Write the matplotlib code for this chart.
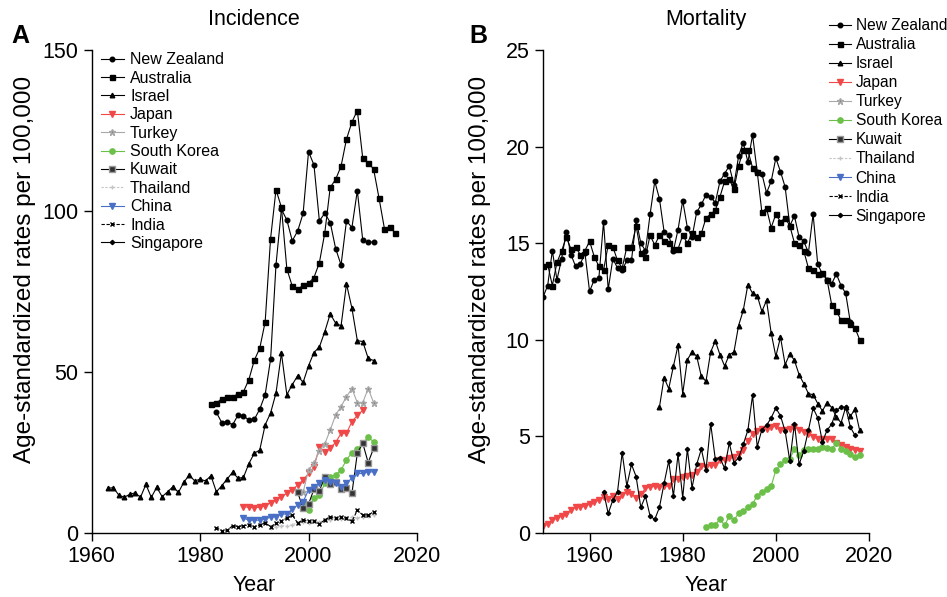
import matplotlib
matplotlib.use("Agg")
import matplotlib.pyplot as plt
import numpy as np

plt.rcParams['font.family'] = ['Liberation Sans', 'DejaVu Sans']

# ---- Incidence data (start year, values) ----
inc_nz_start = 1983
inc_nz = [37.4, 34.2, 34.5, 33.5, 36.6, 36.3, 35.0, 35.2, 38.4, 42.9, 53.9, 83.3, 100.5, 97.2, 90.7,
          93.8, 99.2, 118.4, 114.3, 96.9, 99.3, 96.4, 88.3, 83.2, 96.9, 94.8, 106.3, 90.9, 90.2, 90.4]
inc_au_start = 1982
inc_au = [40.0, 40.2, 41.7, 42.1, 42.1, 43.2, 43.8, 47.6, 53.6, 57.3, 65.5, 91.4, 106.6, 101.1, 82.0,
          76.6, 75.6, 76.9, 77.5, 79.3, 83.9, 93.2, 107.3, 109.8, 113.9, 122.3, 127.6, 131.2, 116.4,
          115.0, 113.0, 104.0, 94.5, 95.1, 93.0]
inc_il_start = 1963
inc_il = [13.8, 14.0, 11.7, 11.0, 11.9, 12.4, 11.0, 15.0, 11.0, 14.1, 11.2, 12.7, 14.3, 12.5, 15.7,
          17.9, 16.1, 16.6, 16.1, 17.7, 12.7, 14.6, 16.7, 18.8, 16.9, 17.2, 21.5, 24.7, 25.7, 33.5,
          37.2, 43.4, 55.8, 42.9, 46.0, 48.8, 46.7, 51.9, 56.0, 57.7, 62.5, 68.0, 65.1, 64.3, 77.3,
          69.8, 59.7, 59.4, 54.2, 53.5]
inc_jp_start = 1988
inc_jp = [8.1, 7.9, 7.8, 7.9, 8.4, 9.3, 10.2, 11.2, 12.2, 13.3, 14.8, 16.4, 18.4, 20.3, 26.7, 25.2,
          26.4, 28.0, 30.9, 30.9, 34.5, 36.5, 38.0]
inc_tr_start = 1998
inc_tr = [12.5, 12.5, 19.5, 21.6, 25.5, 27.6, 31.9, 36.6, 39.2, 42.3, 44.8, 40.4, 40.4, 44.8, 40.4]
inc_kr_start = 1999
inc_kr = [9.1, 7.0, 10.7, 11.7, 15.3, 17.4, 17.9, 19.5, 22.6, 24.9, 25.9, 27.9, 29.6, 28.3]
inc_kw_start = 1998
inc_kw = [12.5, 7.6, 8.9, 13.5, 13.0, 17.4, 15.1, 15.8, 13.5, 13.9, 12.2, 24.7, 27.8, 21.8, 26.2]
inc_th_start = 1993
inc_th = [1.5, 1.8, 2.2, 2.0, 2.5, 3.0, 3.2, 3.0, 3.5, 3.3, 3.8, 4.0, 4.5, 4.2, 4.5, 4.8, 4.6, 5.0,
          5.2, 5.6]
inc_cn_start = 1988
inc_cn = [4.5, 3.9, 3.9, 3.9, 4.3, 4.8, 5.0, 5.8, 5.8, 7.3, 8.6, 9.6, 13.3, 14.1, 15.5, 16.5, 15.8,
          15.3, 14.3, 15.5, 16.9, 18.4, 18.4, 18.9, 18.9]
inc_in_start = 1983
inc_in = [1.6, 0.6, 0.7, 2.2, 1.9, 2.2, 2.4, 1.9, 2.4, 3.1, 1.9, 2.9, 3.7, 4.5, 5.5, 3.0, 4.0, 3.5,
          3.5, 2.7, 4.0, 5.0, 4.5, 5.0, 4.5, 3.5, 7.0, 5.5, 5.5, 6.5]

# ---- Mortality data ----
mor_nz_start = 1950
mor_nz = [12.2, 12.8, 14.6, 13.1, 14.2, 15.6, 14.4, 13.8, 13.9, 14.5, 12.5, 13.1, 13.2, 16.1, 12.6,
          14.2, 13.7, 13.6, 14.1, 14.1, 16.2, 15.0, 14.6, 16.5, 18.2, 17.3, 15.6, 15.4, 14.6, 15.7,
          17.2, 15.8, 15.3, 16.6, 17.0, 17.5, 17.4, 17.1, 18.2, 18.6, 19.0, 18.0, 19.5, 20.2, 19.2,
          20.6, 18.7, 18.6, 17.6, 18.2, 19.4, 18.7, 17.9, 15.9, 16.4, 15.3, 15.1, 14.5, 16.5, 13.9,
          13.4, 13.1, 12.9, 13.4, 12.8, 12.4, 10.9]
mor_au_start = 1950
mor_au = [13.8, 13.9, 12.8, 14.0, 14.6, 15.3, 14.7, 14.8, 14.4, 14.6, 15.1, 14.3, 13.8, 13.6, 14.9,
          14.8, 14.1, 13.7, 14.8, 14.8, 15.9, 14.5, 14.3, 15.4, 14.9, 15.4, 15.1, 15.0, 14.7, 14.7,
          15.4, 15.0, 15.5, 15.3, 15.5, 16.3, 16.5, 16.7, 17.4, 18.2, 18.3, 17.8, 19.0, 19.8, 19.8,
          18.9, 18.7, 16.6, 16.8, 15.8, 16.5, 16.1, 16.3, 15.9, 15.0, 14.9, 14.6, 13.7, 13.6, 13.4,
          13.45, 13.1, 11.8, 11.5, 11.0, 11.0, 10.8, 10.6, 10.0]
mor_il_start = 1975
mor_il = [6.5, 8.03, 7.46, 8.62, 9.7, 7.2, 8.96, 9.36, 9.14, 8.1, 7.84, 9.36, 9.93, 9.22, 8.63, 9.22,
          9.36, 10.73, 11.51, 12.85, 12.4, 12.28, 11.46, 12.03, 10.34, 9.13, 10.13, 8.7, 9.27, 8.92,
          8.18, 7.72, 7.2, 7.15, 6.69, 6.31, 6.74, 6.48, 6.0, 5.69, 6.5, 6.03, 6.4, 5.3]
mor_jp_start = 1950
mor_jp = [0.35, 0.43, 0.65, 0.74, 0.86, 0.95, 1.17, 1.34, 1.31, 1.38, 1.48, 1.57, 1.69, 1.83, 1.72,
          1.89, 1.72, 1.94, 2.12, 2.03, 1.81, 2.0, 2.29, 2.38, 2.41, 2.38, 2.43, 2.43, 2.76, 2.76,
          2.86, 2.93, 2.98, 3.15, 3.45, 3.41, 3.5, 3.5, 3.76, 3.76, 3.88, 3.93, 4.07, 4.27, 4.75,
          5.13, 5.26, 5.39, 5.36, 5.48, 5.51, 5.34, 5.31, 5.39, 5.48, 5.34, 5.22, 5.13, 4.96, 4.87,
          4.87, 4.84, 4.87, 4.65, 4.53, 4.45, 4.36, 4.3, 4.24]
mor_kr_start = 1985
mor_kr = [0.31, 0.38, 0.38, 0.72, 0.38, 0.86, 0.65, 1.0, 1.1, 1.31, 1.51, 1.89, 2.12, 2.24, 2.41,
          3.24, 3.54, 3.79, 3.84, 4.31, 4.02, 4.27, 4.31, 4.31, 4.31, 4.45, 4.41, 4.33, 4.65, 4.36,
          4.22, 4.1, 3.93, 4.05]
mor_sg_start = 1963
mor_sg = [2.12, 1.0, 1.69, 2.12, 4.14, 2.42, 3.54, 2.9, 1.31, 1.89, 0.86, 0.69, 1.31, 2.55, 3.72,
          1.89, 4.07, 1.81, 4.33, 2.33, 3.54, 4.33, 3.24, 5.65, 3.81, 3.88, 3.33, 4.65, 3.62, 3.88,
          4.57, 5.31, 7.12, 4.45, 5.34, 5.56, 5.95, 6.46, 6.05, 5.26, 3.72, 5.65, 3.54, 4.24, 5.31,
          6.46, 5.95, 4.7, 5.31, 5.62, 6.34, 6.5, 6.5, 5.47, 5.04]

countries = ['New Zealand', 'Australia', 'Israel', 'Japan', 'Turkey', 'South Korea',
             'Kuwait', 'Thailand', 'China', 'India', 'Singapore']

# line styles per country
styles = {
    'New Zealand': dict(color='black', marker='o', ms=3.3),
    'Australia': dict(color='black', marker='s', ms=3.6),
    'Israel': dict(color='black', marker='^', ms=3.3),
    'Japan': dict(color='#f04848', marker='v', ms=3.8),
    'Turkey': dict(color='#a8a8a8', marker='*', ms=4.5, mfc='#808080', mec='#a8a8a8'),
    'South Korea': dict(color='#6cc04a', marker='o', ms=3.8),
    'Kuwait': dict(color='black', marker='s', ms=4.3, mfc='#333333', mec='#9a9a9a'),
    'Thailand': dict(color='#c4c4c4', marker='+', ms=3, ls=(0, (2, 1.5))),
    'China': dict(color='#4a6fc6', marker='v', ms=4.2),
    'India': dict(color='black', marker='x', ms=3, ls=(0, (3, 1.5))),
    'Singapore': dict(color='black', marker='D', ms=2.2),
}

inc = {
    'New Zealand': (inc_nz_start, inc_nz), 'Australia': (inc_au_start, inc_au),
    'Israel': (inc_il_start, inc_il), 'Japan': (inc_jp_start, inc_jp),
    'Turkey': (inc_tr_start, inc_tr), 'South Korea': (inc_kr_start, inc_kr),
    'Kuwait': (inc_kw_start, inc_kw), 'Thailand': (inc_th_start, inc_th),
    'China': (inc_cn_start, inc_cn), 'India': (inc_in_start, inc_in),
}
mor = {
    'New Zealand': (mor_nz_start, mor_nz), 'Australia': (mor_au_start, mor_au),
    'Israel': (mor_il_start, mor_il), 'Japan': (mor_jp_start, mor_jp),
    'South Korea': (mor_kr_start, mor_kr), 'Singapore': (mor_sg_start, mor_sg),
}


def draw(ax, data):
    for c in countries:
        st = dict(styles[c])
        ls = st.pop('ls', '-')
        if c in data:
            start, vals = data[c]
            yrs = np.arange(start, start + len(vals))
            ax.plot(yrs, vals, ls=ls, lw=0.8, label=c, **st)
        else:
            ax.plot([], [], ls=ls, lw=0.8, label=c, **st)


def style_axis(ax, ylab_x):
    for s in ['top', 'right']:
        ax.spines[s].set_visible(False)
    ax.spines['left'].set_linewidth(1.0)
    ax.spines['bottom'].set_linewidth(1.0)
    ax.tick_params(direction='out', length=6, width=1.0, labelsize=15.5)
    ax.set_xticks([1960, 1980, 2000, 2020])
    ax.set_xlabel('Year', fontsize=15.5, labelpad=6)
    ax.set_ylabel('Age-standardized rates per 100,000', fontsize=17.5)
    ax.yaxis.set_label_coords(ylab_x, 0.546)


fig = plt.figure(figsize=(9.47, 5.97), dpi=100)
axA = fig.add_axes([0.0968, 0.1077, 0.3435, 0.8085])
axB = fig.add_axes([0.5734, 0.1077, 0.3442, 0.8085])

draw(axA, inc)
axA.set_xlim(1960, 2020)
axA.set_ylim(0, 150)
axA.set_yticks([0, 50, 100, 150])
style_axis(axA, -0.172)
axA.set_title('Incidence', fontsize=15.5, pad=18)
axA.legend(loc='upper left', bbox_to_anchor=(0.0, 1.015), frameon=False, fontsize=11.5,
           handlelength=1.4, handletextpad=0.4, labelspacing=0.21, borderaxespad=0.2)

draw(axB, mor)
axB.set_xlim(1950, 2020)
axB.set_ylim(0, 25)
axB.set_yticks([0, 5, 10, 15, 20, 25])
style_axis(axB, -0.16)
axB.set_title('Mortality', fontsize=15.5, pad=18)
axB.legend(loc='upper left', bbox_to_anchor=(0.869, 0.98), bbox_transform=fig.transFigure,
           frameon=False, fontsize=11.2, handlelength=1.4, handletextpad=0.3, labelspacing=0.26,
           borderaxespad=0.0)

fig.text(0.012, 0.928, 'A', fontsize=18, fontweight='bold')
fig.text(0.496, 0.928, 'B', fontsize=18, fontweight='bold')

fig.savefig('out.png', dpi=100)
